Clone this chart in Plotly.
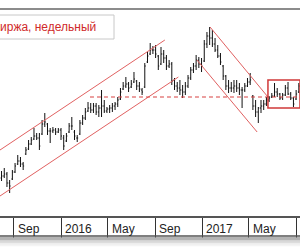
import plotly.graph_objects as go
import pandas as pd

# Weekly bars (price units, arbitrary scale)
start_week = "2015-07-31"
highs = [45,48,44,36,46,53,61,59,54,69,76,79,88,83,83,96,103,93,88,89,88,88,88,81,83,93,99,86,81,96,
         101,108,114,113,113,113,111,126,116,109,111,113,114,119,128,134,139,134,136,144,136,134,128,153,164,173,170,171,161,169,
         166,161,156,154,138,134,136,131,134,141,149,153,161,159,158,176,184,189,186,178,171,163,151,141,136,134,136,136,133,129,
         133,138,143,121,116,109,116,116,119,120,123,133,128,123,123,131,134,124,119,126,133]
lows = [35,38,29,23,36,43,51,49,46,61,66,71,76,76,66,81,89,81,73,83,81,83,76,66,74,83,86,76,74,81,
        91,96,104,103,103,101,99,99,103,103,103,104,106,109,116,126,128,124,128,133,126,124,121,128,153,161,162,158,146,151,
        153,146,148,131,126,124,121,118,121,128,136,143,146,148,144,154,168,171,169,164,158,151,136,126,123,124,123,124,121,108,
        124,129,131,106,99,93,103,106,110,114,118,119,119,116,116,120,121,116,109,116,123]
closes = [40,42,33,30,44,50,55,52,50,66,72,76,80,78,70,92,94,85,85,86,84,86,80,70,80,90,90,80,78,93,
          98,104,108,106,110,104,108,110,105,107,108,110,112,116,124,130,132,128,132,137,130,127,124,150,160,166,166,162,150,162,
          158,150,152,135,130,128,126,124,130,138,146,150,156,152,150,172,180,178,172,166,160,154,140,130,128,128,130,128,126,126,
          130,134,136,110,104,108,110,112,116,118,120,124,122,118,121,128,122,118,112,122,130]
opens = [38,40,42,33,37,44,52,55,52,62,67,72,77,80,78,82,92,92,85,85,86,84,86,78,75,84,90,84,78,82,
         93,98,105,108,106,110,104,108,110,105,107,108,110,112,117,127,130,132,129,134,135,130,126,129,154,162,166,166,160,152,
         162,158,150,152,136,130,128,126,124,130,138,146,150,156,152,155,172,180,178,172,166,160,150,140,130,128,128,130,128,126,
         126,130,134,120,110,104,108,110,112,116,119,120,124,122,118,121,128,122,118,117,124]
dates = pd.date_range(start_week, periods=len(closes), freq="W-FRI")

# Analysis lines (date, price)
up_channel_top = [("2015-07-27", 66), ("2016-09-26", 176)]
up_channel_bottom = [("2015-07-27", 20), ("2016-10-31", 139)]
support_level = [("2016-03-16", 119), ("2017-09-12", 119)]
down_channel_top = [("2017-01-21", 189), ("2017-06-20", 119)]
down_channel_bottom = [("2016-12-18", 156), ("2017-05-23", 84)]
range_box = [("2017-06-20", 108), ("2017-09-11", 136)]

tick_dates = ["2015-09-01", "2016-01-01", "2016-05-01", "2016-09-01", "2017-01-01", "2017-05-01", "2017-09-01"]
tick_labels = ["Sep", "2016", "May", "Sep", "2017", "May", ""]
title_text = "иржа, недельный"   # visible part of the cropped caption

x_range = ["2015-07-27", "2017-09-11"]
y_range = [0, 216]

fig = go.Figure()
fig.add_trace(go.Ohlc(
    x=dates, open=opens, high=highs, low=lows, close=closes,
    increasing=dict(line=dict(color="#111111", width=1)),
    decreasing=dict(line=dict(color="#111111", width=1)),
    tickwidth=0.35, hoverinfo="skip", showlegend=False,
))

shapes = []
red = "#e06060"
for seg in (up_channel_top, up_channel_bottom, down_channel_top, down_channel_bottom):
    (x0, y0), (x1, y1) = seg
    shapes.append(dict(type="line", xref="x", yref="y", x0=x0, y0=y0, x1=x1, y1=y1,
                       line=dict(color=red, width=1)))
(x0, y0), (x1, y1) = support_level
shapes.append(dict(type="line", xref="x", yref="y", x0=x0, y0=y0, x1=x1, y1=y1,
                   line=dict(color="#d84040", width=1.2, dash="4px,3px")))
(x0, y0), (x1, y1) = range_box
shapes.append(dict(type="rect", xref="x", yref="y", x0=x0, y0=y0, x1=x1, y1=y1,
                   line=dict(color="#d03838", width=1.5)))

# frame elements
shapes.append(dict(type="line", xref="paper", yref="paper", x0=0, x1=1, y0=(216 - 9) / 216, y1=(216 - 9) / 216,
                   line=dict(color="#8c8c8c", width=2)))
shapes.append(dict(type="rect", xref="paper", yref="paper", x0=-0.05, x1=114 / 300,
                   y0=(216 - 39) / 216, y1=(216 - 15) / 216,
                   line=dict(color="#c8c8c8", width=1), fillcolor="white"))
shapes.append(dict(type="line", xref="paper", yref="paper", x0=0, x1=1, y0=-20 / 216, y1=-20 / 216,
                   line=dict(color="#555555", width=1.5)))
for k, c in enumerate(["#9a9a9a", "#b4b4b4", "#cacaca", "#dcdcdc", "#eaeaea", "#f4f4f4"]):
    yy = -(22 + k * 1.5) / 216
    shapes.append(dict(type="line", xref="paper", yref="paper", x0=0, x1=1, y0=yy, y1=yy,
                       line=dict(color=c, width=1.5)))

annotations = [dict(xref="paper", yref="paper", x=0, y=(216 - 27) / 216, xanchor="left", yanchor="middle",
                    xshift=-1, text=title_text, showarrow=False, borderpad=0,
                    font=dict(family="Liberation Sans, Arial", size=12, color="#d02a2a"))]
for d, t in zip(tick_dates, tick_labels):
    if t:
        annotations.append(dict(xref="x", yref="paper", x=d, y=-13 / 216, xanchor="left", yanchor="middle",
                                xshift=2, text=t, showarrow=False,
                                font=dict(family="Liberation Sans, Arial", size=12, color="#222222")))

fig.update_layout(
    width=300, height=250, margin=dict(l=0, r=0, t=0, b=34),
    paper_bgcolor="white", plot_bgcolor="white",
    shapes=shapes, annotations=annotations, showlegend=False,
    xaxis=dict(type="date", range=x_range, showgrid=False, zeroline=False, rangeslider=dict(visible=False),
               showline=True, linecolor="#555555", linewidth=2,
               tickmode="array", tickvals=tick_dates, ticktext=[""] * len(tick_dates),
               ticks="outside", ticklen=20, tickwidth=1, tickcolor="#333333", showticklabels=False),
    yaxis=dict(range=y_range, showgrid=False, zeroline=False, showticklabels=False, visible=False),
)
fig.write_html("out.html")
